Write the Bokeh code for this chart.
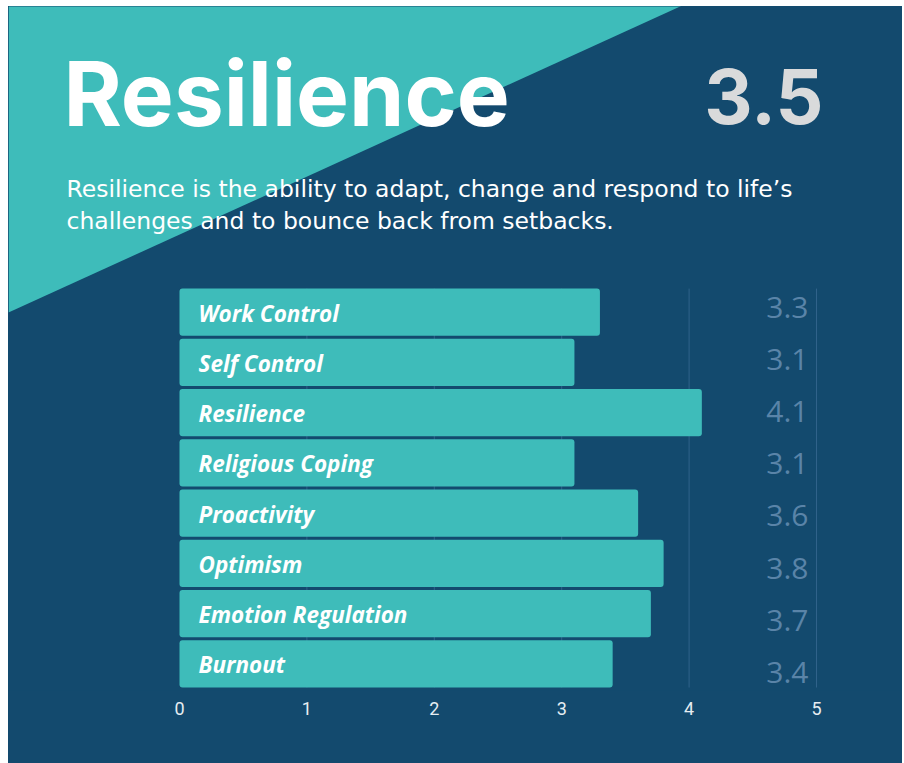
import numpy as np
from bokeh.plotting import figure
from bokeh.models import ColumnDataSource, Label, PolyAnnotation, FixedTicker, Range1d, Spacer
from bokeh.layouts import column, row
from bokeh.core.properties import value
from bokeh.embed import file_html
from bokeh.resources import INLINE

# ---- data ----
categories = ["Work Control", "Self Control", "Resilience", "Religious Coping",
              "Proactivity", "Optimism", "Emotion Regulation", "Burnout"]
scores = [3.3, 3.1, 4.1, 3.1, 3.6, 3.8, 3.7, 3.4]
score_labels = ["3.3", "3.1", "4.1", "3.1", "3.6", "3.8", "3.7", "3.4"]
x_ticks = [0, 1, 2, 3, 4, 5]
overall_score = "3.5"
title_text = "Resilience"
subtitle_lines = ["Resilience is the ability to adapt, change and respond to life\u2019s",
                  "challenges and to bounce back from setbacks."]

# ---- style ----
BG = "#134a6e"
TEAL = "#3ebcba"
GRID = "#30628a"
VALUE_COL = "#5a84a8"

W, H = 894, 757
FRAME_H = 684
n = len(categories)
ypos = [n - 1 - i for i in range(n)]

px_per_unit = 127.4
x0_px = 171
pitch = 50.24
y0_px = 657.4

x_start = -x0_px / px_per_unit
x_end = (W - x0_px) / px_per_unit
y_start = -(FRAME_H - y0_px) / pitch
y_end = y0_px / pitch

# value labels sit in their own slightly wider, evenly spaced column
label_y = list(np.linspace(max(ypos) + 0.08, min(ypos) - 0.19, n))

src = ColumnDataSource(dict(cat=categories, y=ypos, score=scores, lab=score_labels,
                            ly=label_y, xmax=[max(x_ticks)] * n))

p = figure(width=W, height=H, output_backend="svg", toolbar_location=None,
           x_range=Range1d(x_start, x_end), y_range=Range1d(y_start, y_end),
           min_border_left=0, min_border_right=0, min_border_top=0, min_border_bottom=H - FRAME_H)
p.background_fill_color = BG
p.border_fill_color = BG
p.outline_line_color = None
p.grid.visible = False
p.yaxis.visible = False
p.styles = {"background-color": BG}

# teal triangle in the top-left corner
tri = PolyAnnotation(xs=[0, 676, 0], ys=[FRAME_H + 2, FRAME_H + 2, 378],
                     xs_units="screen", ys_units="screen",
                     fill_color=TEAL, fill_alpha=1.0, line_color=None, level="underlay")
p.add_layout(tri)

# grid segments at tick positions, spanning the bar area
gx = [t for t in x_ticks if t > 0]
p.segment(x0=gx, x1=gx, y0=[min(ypos) - 0.47] * len(gx), y1=[max(ypos) + 0.47] * len(gx),
          line_color=GRID, line_width=1)

p.hbar(y="y", left=0, right="score", height=0.94, source=src, fill_color=TEAL,
       line_color=None, border_radius=3)

p.text(x=0, y="y", text="cat", source=src, x_offset=19, y_offset=1, text_baseline="middle",
       text_font=value("Open Sans"), text_font_style="bold italic", text_font_size="22.5px",
       text_color="white")

p.text(x="xmax", y="ly", text="lab", source=src, x_offset=-8, y_offset=-1, text_align="right",
       text_baseline="middle", text_font=value("Open Sans"), text_font_size="30px",
       text_color=VALUE_COL)

# x axis
p.xaxis.ticker = FixedTicker(ticks=x_ticks)
p.xaxis.axis_line_color = None
p.xaxis.major_tick_line_color = None
p.xaxis.minor_tick_line_color = None
p.xaxis.major_label_text_color = "#e6edf2"
p.xaxis.major_label_text_font = "Roboto"
p.xaxis.major_label_text_font_size = "18px"
p.xaxis.major_label_standoff = 5

# texts
p.add_layout(Label(x=55, y=FRAME_H - 87, x_units="screen", y_units="screen", text=title_text,
                   text_font="Inter", text_font_style="bold", text_font_size="89px",
                   text_color="white", text_baseline="alphabetic"))
p.add_layout(Label(x=815, y=FRAME_H - 90, x_units="screen", y_units="screen", text=overall_score,
                   text_font="Inter", text_font_style="bold", text_font_size="75px",
                   text_color="#d9dadb", text_baseline="alphabetic", text_align="right"))
for i, line in enumerate(subtitle_lines):
    p.add_layout(Label(x=58, y=FRAME_H - 182 - 32 * i, x_units="screen", y_units="screen",
                       text=line, text_font="DejaVu Sans", text_font_size="23.5px",
                       text_color="white", text_baseline="alphabetic"))

layout = column(Spacer(width=10, height=6), row(Spacer(width=8, height=10), p))
open("out.html", "w").write(file_html(layout, INLINE))
